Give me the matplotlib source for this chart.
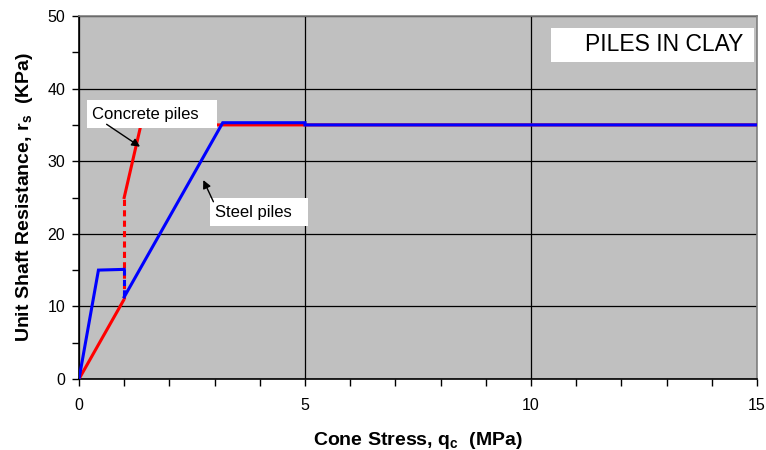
import matplotlib
matplotlib.use("Agg")
import matplotlib.pyplot as plt
from matplotlib.ticker import MultipleLocator
from matplotlib.patches import Rectangle

plt.rcParams['font.family'] = ['Liberation Sans', 'DejaVu Sans']

# Concrete piles (red)
concrete_q_low = [0, 1.0]
concrete_r_low = [0, 11.0]
concrete_q_jump = [1.0, 1.0]
concrete_r_jump = [11.0, 25.0]
concrete_q_high = [1.0, 1.37, 15.0]
concrete_r_high = [25.0, 35.0, 35.0]

# Steel piles (blue)
steel_q_low = [0, 0.43, 1.0]
steel_r_low = [0, 15.0, 15.1]
steel_q_jump = [1.0, 1.0]
steel_r_jump = [15.1, 11.3]
steel_q_high = [1.0, 3.18, 5.0, 5.0, 15.0]
steel_r_high = [11.3, 35.3, 35.3, 35.0, 35.0]

x_ticks = [0, 5, 10, 15]
y_ticks = [0, 10, 20, 30, 40, 50]

fig = plt.figure(figsize=(7.66, 4.5), dpi=100)
ax = fig.add_axes([79/766, 1-379/450, (757-79)/766, (379-16)/450])
ax.set_facecolor('#C0C0C0')

red = '#FF0000'
blue = '#0000FF'
lw = 2.2
dot = (0, (2.0, 1.4))

ax.plot(concrete_q_low, concrete_r_low, color=red, lw=lw, solid_capstyle='butt', zorder=3)
ax.plot(concrete_q_jump, concrete_r_jump, color=red, lw=lw, linestyle=dot, zorder=3)
ax.plot(concrete_q_high, concrete_r_high, color=red, lw=lw, solid_joinstyle='miter', zorder=3)

ax.plot(steel_q_low, steel_r_low, color=blue, lw=lw, solid_joinstyle='miter', zorder=4)
ax.plot(steel_q_jump, steel_r_jump, color=blue, lw=lw, linestyle=dot, zorder=4)
ax.plot(steel_q_high, steel_r_high, color=blue, lw=lw, solid_joinstyle='miter', zorder=4)

ax.set_xlim(0, 15)
ax.set_ylim(0, 50)
ax.set_xticks(x_ticks)
ax.set_yticks(y_ticks)
ax.xaxis.set_minor_locator(MultipleLocator(1))
ax.yaxis.set_minor_locator(MultipleLocator(5))
ax.tick_params(axis='both', which='both', direction='out', labelsize=11.5, colors='black')
ax.tick_params(which='major', length=5, width=1)
ax.tick_params(which='minor', length=5, width=1)
ax.tick_params(axis='x', pad=9)
ax.tick_params(axis='y', pad=5)

ax.grid(True, which='major', color='black', lw=0.9, zorder=1)
ax.set_axisbelow(True)

for s in ['top', 'right']:
    ax.spines[s].set_color('#808080')
    ax.spines[s].set_linewidth(1.2)
for s in ['left', 'bottom']:
    ax.spines[s].set_color('black')
    ax.spines[s].set_linewidth(1.2)

ax.set_xlabel(r'Cone Stress, q$_\mathregular{c}$  (MPa)', fontsize=14, fontweight='bold', labelpad=12)
ax.set_ylabel(r'Unit Shaft Resistance, r$_\mathregular{s}$  (KPa)', fontsize=14, fontweight='bold', labelpad=9)

# label boxes (white, no border)
ax.add_patch(Rectangle((0.18, 34.57), 2.87, 3.86, facecolor='white', edgecolor='none', zorder=5))
ax.add_patch(Rectangle((2.90, 21.07), 2.17, 3.86, facecolor='white', edgecolor='none', zorder=5))
ax.add_patch(Rectangle((10.44, 43.66), 4.49, 4.69, facecolor='white', edgecolor='none', zorder=5))

ax.annotate('Concrete piles', xy=(1.35, 32.0), xytext=(0.28, 36.5),
            fontsize=12, ha='left', va='center', zorder=6,
            arrowprops=dict(arrowstyle='-|>', color='black', lw=1, mutation_scale=12,
                            shrinkA=0, shrinkB=0, relpos=(0.07, 0.15)))
ax.annotate('Steel piles', xy=(2.75, 27.4), xytext=(3.01, 23.0),
            fontsize=12, ha='left', va='center', zorder=6,
            arrowprops=dict(arrowstyle='-|>', color='black', lw=1, mutation_scale=12,
                            shrinkA=0, shrinkB=0, relpos=(0.0, 0.95)))

ax.text(12.95, 46.1, 'PILES IN CLAY', fontsize=16.5, ha='center', va='center', zorder=6)

fig.savefig('out.png', dpi=100)
